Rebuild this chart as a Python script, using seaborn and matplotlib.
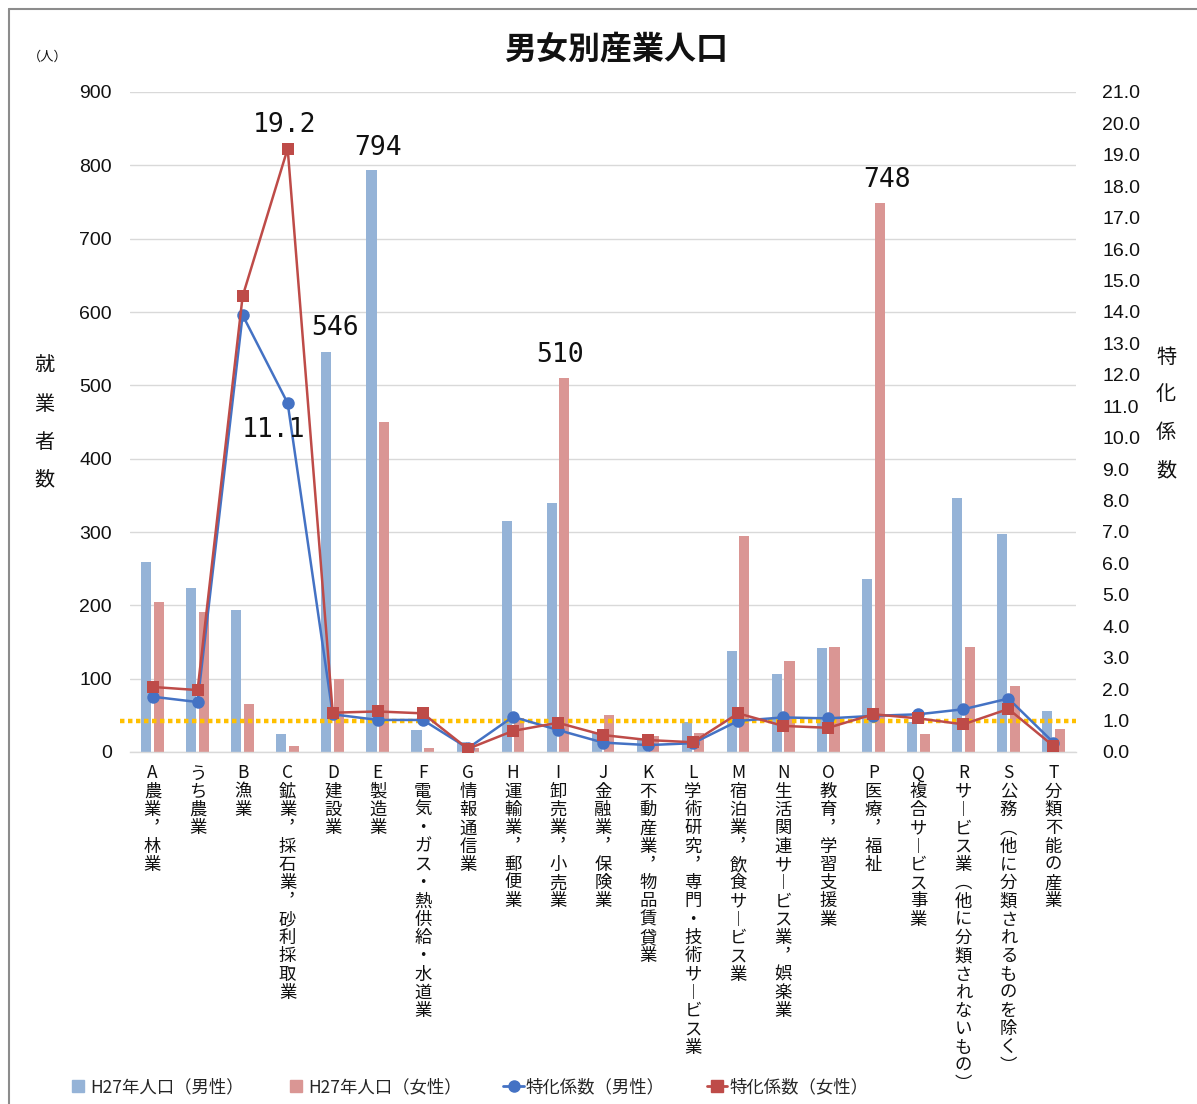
import numpy as np
import pandas as pd
import matplotlib
matplotlib.use("Agg")
import matplotlib.pyplot as plt
import seaborn as sns
from matplotlib.lines import Line2D

# --- data -------------------------------------------------------------
codes = ["A", "", "B", "C", "D", "E", "F", "G", "H", "I", "J",
         "K", "L", "M", "N", "O", "P", "Q", "R", "S", "T"]
industries = ["農業，林業", "うち農業", "漁業", "鉱業，採石業，砂利採取業", "建設業",
              "製造業", "電気・ガス・熱供給・水道業", "情報通信業", "運輸業，郵便業",
              "卸売業，小売業", "金融業，保険業", "不動産業，物品賃貸業",
              "学術研究，専門・技術サービス業", "宿泊業，飲食サービス業",
              "生活関連サービス業，娯楽業", "教育，学習支援業", "医療，福祉",
              "複合サービス事業", "サービス業（他に分類されないもの）",
              "公務（他に分類されるものを除く）", "分類不能の産業"]
male_pop = [259, 223, 194, 25, 546, 794, 30, 14, 315, 340, 26,
            16, 41, 138, 106, 142, 236, 41, 346, 297, 56]
female_pop = [204, 191, 65, 8, 100, 450, 6, 6, 46, 510, 50,
              22, 26, 295, 124, 143, 748, 24, 143, 90, 31]
male_coef = [1.76, 1.59, 13.9, 11.1, 1.20, 1.02, 1.02, 0.12, 1.12, 0.70, 0.30,
             0.22, 0.28, 0.99, 1.10, 1.07, 1.15, 1.20, 1.36, 1.70, 0.30]
female_coef = [2.07, 1.97, 14.5, 19.2, 1.25, 1.29, 1.23, 0.10, 0.67, 0.93, 0.54,
               0.38, 0.31, 1.23, 0.83, 0.77, 1.20, 1.07, 0.88, 1.37, 0.19]
series_names = ["H27年人口（男性）", "H27年人口（女性）", "特化係数（男性）", "特化係数（女性）"]

# --- style ------------------------------------------------------------
sns.set_theme(style="white")
plt.rcParams["font.family"] = ["Noto Sans CJK JP", "DejaVu Sans"]

C_MALE_BAR = "#95B3D7"
C_FEMALE_BAR = "#DA9694"
C_MALE_LINE = "#4472C4"
C_FEMALE_LINE = "#BE4B48"
C_REF = "#FFC000"
NUM_FONT = ["Liberation Sans", "DejaVu Sans"]

# vertical-writing forms for stacked labels
VERT = {"ー": "︱", "（": "︵", "）": "︶", "，": "︐"}


def stacked(code, name):
    chars = ([code] if code else []) + [VERT.get(c, c) for c in name]
    return "\n".join(chars)


xlabels = [stacked(c, n) for c, n in zip(codes, industries)]
n = len(xlabels)

df = pd.DataFrame({
    "label": xlabels * 2,
    "pop": male_pop + female_pop,
    "series": [series_names[0]] * n + [series_names[1]] * n,
})

W, H = 1197, 1104
fig = plt.figure(figsize=(W / 100, H / 100), dpi=100)
ax = fig.add_axes([130 / W, 1 - 752 / H, 946 / W, 660 / H])

sns.barplot(data=df, x="label", y="pop", hue="series", order=xlabels,
            hue_order=series_names[:2], palette=[C_MALE_BAR, C_FEMALE_BAR],
            width=0.56, gap=0.2, saturation=1, linewidth=0, legend=False, ax=ax)

ax.set_ylim(0, 900)
ax.set_yticks(np.arange(0, 901, 100))
ax.set_xlim(-0.5, n - 0.5)
ax.yaxis.grid(True, color="#D9D9D9", lw=1.0)
ax.set_axisbelow(True)
for s in ["top", "left", "right"]:
    ax.spines[s].set_visible(False)
ax.spines["bottom"].set_color("#D9D9D9")
ax.spines["bottom"].set_linewidth(1.0)
ax.tick_params(axis="both", length=0)
ax.tick_params(axis="y", pad=13, labelsize=14, labelcolor="#111111")
ax.set_xlabel("")
ax.set_ylabel("")
for t in ax.get_yticklabels():
    t.set_fontfamily(NUM_FONT)
ax.set_xticks(range(n))
ax.set_xticklabels(xlabels, fontsize=12.5, linespacing=1.02, va="top", color="#111111")
ax.tick_params(axis="x", pad=9)

# coefficient lines on secondary axis
ax2 = ax.twinx()
pos = np.arange(n)
ax2.axhline(1.0, xmin=-0.011, xmax=1.0, color=C_REF, lw=3.2,
            linestyle=(0, (1, 0.8)), zorder=1, clip_on=False)
sns.lineplot(x=pos, y=male_coef, ax=ax2, color=C_MALE_LINE, lw=1.8, marker="o",
             markersize=9, markeredgewidth=0, zorder=3, legend=False)
sns.lineplot(x=pos, y=female_coef, ax=ax2, color=C_FEMALE_LINE, lw=1.8, marker="s",
             markersize=9, markeredgewidth=0, zorder=4, legend=False)
ax2.set_ylim(0, 21)
ax2.set_yticks(np.arange(0, 21.01, 1.0))
ax2.set_yticklabels([f"{v:.1f}" for v in np.arange(0, 21.01, 1.0)],
                    fontfamily=NUM_FONT, fontsize=14, color="#111111")
ax2.tick_params(axis="y", length=0, pad=19)
ax2.set_xlim(-0.5, n - 0.5)
for s in ax2.spines.values():
    s.set_visible(False)
ax2.set_ylabel("")

# value labels
lab_kw = dict(textcoords="offset pixels", ha="center", va="center",
              fontsize=19, fontfamily=["DejaVu Sans Mono"], color="#111111")
off = 0.14
i_d, i_e, i_i, i_p, i_c = 4, 5, 9, 16, 3
ax.annotate(f"{male_pop[i_d]}", xy=(i_d - off, male_pop[i_d]), xytext=(9, 24), **lab_kw)
ax.annotate(f"{male_pop[i_e]}", xy=(i_e - off, male_pop[i_e]), xytext=(7, 22), **lab_kw)
ax.annotate(f"{female_pop[i_i]}", xy=(i_i + off, female_pop[i_i]), xytext=(-4, 23), **lab_kw)
ax.annotate(f"{female_pop[i_p]}", xy=(i_p + off, female_pop[i_p]), xytext=(7, 23), **lab_kw)
ax2.annotate(f"{female_coef[i_c]:.1f}", xy=(i_c, female_coef[i_c]), xytext=(-3, 24), **lab_kw)
ax2.annotate(f"{male_coef[i_c]:.1f}", xy=(i_c, male_coef[i_c]), xytext=(-14, -27), **lab_kw)

# titles and axis captions
fig.text(616 / W, 1 - 49 / H, "男女別産業人口", ha="center", va="center",
         fontsize=23, fontweight="bold", color="#111111")
fig.text(48 / W, 1 - 57 / H, "（人）", ha="center", va="center", fontsize=9.5, color="#111111")
for k, ch in enumerate("就業者数"):
    fig.text(44 / W, 1 - (366 + 38 * k) / H, ch, ha="center", va="center",
             fontsize=14.5, color="#111111")
for k, ch in enumerate("特化係数"):
    fig.text(1166 / W, 1 - (357 + 38 * k) / H, ch, ha="center", va="center",
             fontsize=14.5, color="#111111")

# legend
handles = [
    Line2D([], [], color=C_MALE_BAR, marker="s", markersize=8, linestyle="none"),
    Line2D([], [], color=C_FEMALE_BAR, marker="s", markersize=8, linestyle="none"),
    Line2D([], [], color=C_MALE_LINE, marker="o", markersize=8, lw=2),
    Line2D([], [], color=C_FEMALE_LINE, marker="s", markersize=8, lw=2),
]
fig.legend(handles, series_names, loc="center left",
           bbox_to_anchor=(52 / W, 1 - 1087 / H), ncol=4, frameon=False,
           fontsize=12.5, handlelength=1.2, handletextpad=0.1, columnspacing=2.4)

# outer frame
fig.add_artist(Line2D([9 / W, 9 / W], [0, 1 - 9 / H], color="#8C8C8C", lw=1.5))
fig.add_artist(Line2D([9 / W, 1], [1 - 9 / H, 1 - 9 / H], color="#8C8C8C", lw=1.5))

fig.savefig("out.png", dpi=100, facecolor="white")
